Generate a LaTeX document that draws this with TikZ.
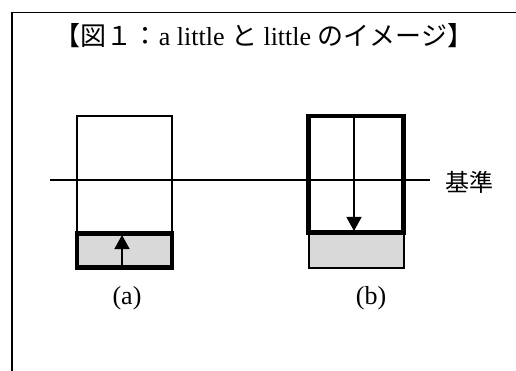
\documentclass[tikz,border=0pt]{standalone}
\usepackage{fontspec}
\setmainfont{Liberation Serif}
\newfontfamily\jp{Noto Sans CJK JP}
\usetikzlibrary{arrows.meta}
\definecolor{boxgray}{HTML}{D9D9D9}
\tikzset{
  thinbox/.style={draw, line width=1.3pt, minimum width=95pt, inner sep=0pt},
  thickbox/.style={draw, line width=4.8pt, minimum width=95pt, inner sep=0pt},
  arr/.style={line width=1.3pt, -{Triangle[width=15pt,length=14pt]}},
  lbl/.style={font=\fontsize{26pt}{30pt}\selectfont, inner sep=0pt}
}
\begin{document}
\begin{tikzpicture}[x=1pt,y=-1pt]
\useasboundingbox (0,0) rectangle (516,371);
% frame
\draw[line width=1.6pt] (11.8,371) -- (11.8,12.5) -- (516,12.5);
% title
\node[lbl, anchor=center] (title) at (264,36)
  {{\jp 【図１：}a little {\jp と} little {\jp のイメージ】}};
% reference line
\coordinate (l0) at (50,180);
\coordinate (l1) at (430,180);
\draw[line width=1.3pt] (l0) -- (l1);
\node[lbl, font=\jp\fontsize{24pt}{28pt}\selectfont, anchor=west] (kijun) at (445,182) {基準};
% (a)
\node[thinbox, minimum height=116pt] (aup) at (124.5,174) {};
\node[thickbox, fill=boxgray, minimum height=34pt] (alow) at (124.5,250.5) {};
\coordinate (as) at (122,267.5);
\coordinate (at) at (122,235);
\draw[arr] (as) -- (at);
\node[lbl] (la) at (127,298) {(a)};
% (b)
\node[thinbox, fill=boxgray, minimum height=36pt] (blow) at (356.5,250) {};
\node[thickbox, minimum height=116.5pt] (bup) at (356,174.3) {};
\coordinate (bs) at (354,116);
\coordinate (bt) at (354,231);
\draw[arr] (bs) -- (bt);
\node[lbl] (lb) at (371,298) {(b)};
\end{tikzpicture}
\end{document}
